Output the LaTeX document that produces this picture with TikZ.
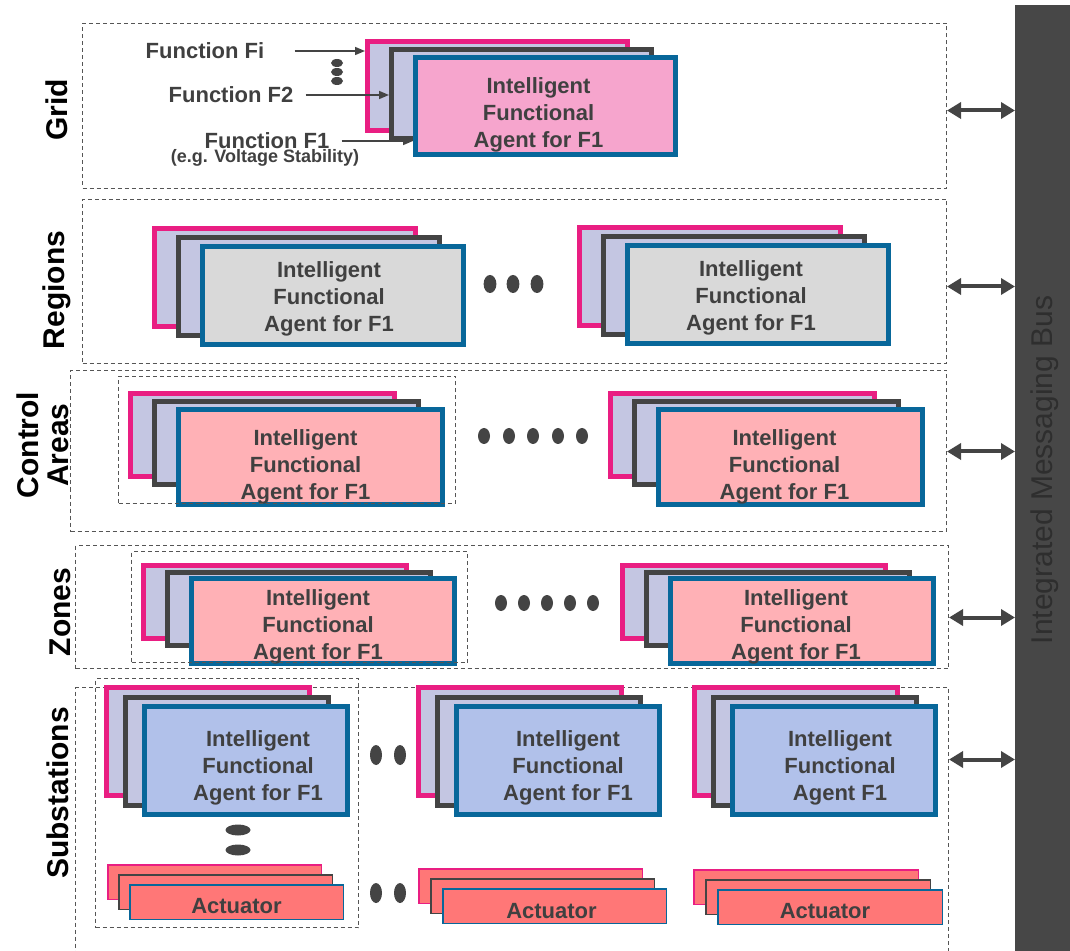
\documentclass[tikz,border=0pt]{standalone}
\usepackage{fontspec}
\setmainfont{Liberation Sans}
\usetikzlibrary{positioning,arrows.meta}

\definecolor{pinkline}{HTML}{E91E82}
\definecolor{darkline}{HTML}{444444}
\definecolor{blueline}{HTML}{08679A}
\definecolor{lavender}{HTML}{C4C6E2}
\definecolor{gridfill}{HTML}{F6A5CD}
\definecolor{regionfill}{HTML}{D9D9D9}
\definecolor{areafill}{HTML}{FFB1B6}
\definecolor{subfill}{HTML}{B1C1EA}
\definecolor{actfill}{HTML}{FF7777}
\definecolor{textgray}{HTML}{404040}
\definecolor{dashgray}{HTML}{555555}
\definecolor{busgray}{HTML}{474747}
\definecolor{bustext}{HTML}{2E2E2E}

\tikzstyle{Layer} = [draw=dashgray, dash pattern=on 2pt off 1.5pt, line width=0.5pt, anchor=north west, inner sep=0pt]
\tikzstyle{Group} = [Layer]
\tikzstyle{Back} = [draw=pinkline, fill=lavender, line width=2.5pt, anchor=north west, inner sep=0pt]
\tikzstyle{Mid} = [draw=darkline, fill=lavender, line width=2.5pt, anchor=north west, inner sep=0pt]
\tikzstyle{Front} = [draw=blueline, line width=2.5pt, anchor=north west, inner sep=0pt]
\tikzstyle{AgentText} = [align=center, inner sep=0pt, text=textgray, font=\fontsize{11}{13.5}\selectfont\bfseries]
\tikzstyle{ActBack} = [Back, fill=actfill, line width=0.75pt, minimum height=17.25pt]
\tikzstyle{ActMid} = [Mid, fill=actfill, line width=0.75pt, minimum height=17.25pt]
\tikzstyle{ActFront} = [Front, fill=actfill, line width=0.75pt, minimum height=17.25pt]
\tikzstyle{Bus} = [fill=busgray, anchor=north west, inner sep=0pt]
\tikzstyle{BusLabel} = [rotate=90, font=\fontsize{15}{15}\selectfont\color{bustext}]
\tikzstyle{LayerLabel} = [rotate=90, align=center, font=\fontsize{15}{15}\selectfont\bfseries]
\tikzstyle{FuncLabel} = [inner sep=0pt, text=textgray, font=\fontsize{11}{13}\selectfont\bfseries]
\tikzstyle{NoteLabel} = [inner sep=0pt, text=textgray, font=\fontsize{9}{10}\selectfont\bfseries]
\tikzstyle{FuncArrow} = [draw=darkline, line width=0.75pt, -{Triangle[length=5pt,width=4pt]}]
\tikzstyle{BusArrow} = [draw=darkline, line width=2pt, {Triangle[length=7pt,width=8pt]}-{Triangle[length=7pt,width=8pt]}]
\tikzstyle{DotFill} = [fill=darkline]

% three stacked agent boxes: name, back corner, width, back height, front height, offset, fill, text, text shift
\newcommand{\agentstack}[9]{%
  \node[Back, minimum width=#3, minimum height=#4] (#1b) at (#2) {};
  \node[Mid,  minimum width=#3, minimum height=#4] (#1m) at ([shift={(#6)}]#1b.north west) {};
  \node[Front, fill=#7, minimum width=#3, minimum height=#5] (#1) at ([shift={(#6)}]#1m.north west) {};
  \node[AgentText] (#1t) at ([shift={(#9)}]#1.center) {#8};
}
% three stacked actuator boxes: name, back corner, width, offset, text shift
\newcommand{\actuatorstack}[5]{%
  \node[ActBack, minimum width=#3] (#1b) at (#2) {};
  \node[ActMid,  minimum width=#3] (#1m) at ([shift={(#4)}]#1b.north west) {};
  \node[ActFront, minimum width=#3] (#1) at ([shift={(#4)}]#1m.north west) {};
  \node[AgentText] (#1t) at ([shift={(#5)}]#1.center) {Actuator};
}

\begin{document}
\begin{tikzpicture}[x=0.5pt, y=-0.5pt]
    \useasboundingbox (0,0) rectangle (1070,951);

    % layers
    \node[Layer, minimum width=432pt,   minimum height=82.5pt] (grid)    at (82,23)  {};
    \node[Layer, minimum width=432pt,   minimum height=82pt]   (regions) at (82,199) {};
    \node[Layer, minimum width=438pt,   minimum height=80.5pt] (control) at (70,370) {};
    \node[Layer, minimum width=436.5pt, minimum height=61.5pt] (zones)   at (75,545) {};
    \node[Layer, minimum width=436.5pt, minimum height=140pt]  (subst)   at (75,687) {};

    \node[LayerLabel] (lgrid)    at (57,110) {Grid};
    \node[LayerLabel] (lregions) at (57,290) {Regions};
    \node[LayerLabel] (lcontrol) at (43,445) {Control\\Areas};
    \node[LayerLabel] (lzones)   at (60,612) {Zones};
    \node[LayerLabel] (lsubst)   at (58,793) {Substations};

    % agents
    \agentstack{gf}{365,39}{130pt}{44.5pt}{48.5pt}{24,8}{gridfill}{Intelligent\\Functional\\Agent for F1}{-7,9}
    \agentstack{r1}{152,226}{130.5pt}{49pt}{49pt}{24,9}{regionfill}{Intelligent\\Functional\\Agent for F1}{-4,3}
    \agentstack{r2}{577,225}{130.5pt}{49pt}{49pt}{24,9}{regionfill}{Intelligent\\Functional\\Agent for F1}{-7,3}
    \agentstack{c1}{128,391}{132pt}{41.5pt}{47.5pt}{24,8}{areafill}{Intelligent\\Functional\\Agent for F1}{-5,10}
    \agentstack{c2}{608,391}{132pt}{41.5pt}{47.5pt}{24,8}{areafill}{Intelligent\\Functional\\Agent for F1}{-6,10}
    \agentstack{z1}{141,563}{131.5pt}{36.5pt}{42.5pt}{24,6.5}{areafill}{Intelligent\\Functional\\Agent for F1}{-5,6}
    \agentstack{z2}{620,563}{131.5pt}{36.5pt}{42.5pt}{24,6.5}{areafill}{Intelligent\\Functional\\Agent for F1}{-6,6}
    \agentstack{s1}{104,685}{101.5pt}{54pt}{54pt}{19,9.5}{subfill}{Intelligent\\Functional\\Agent for F1}{12,7}
    \agentstack{s2}{416,685}{101.5pt}{54pt}{54pt}{19,9.5}{subfill}{Intelligent\\Functional\\Agent for F1}{10,7}
    \agentstack{s3}{692,685}{101.5pt}{54pt}{54pt}{19,9.5}{subfill}{Intelligent\\Functional\\Agent F1}{6,7}

    \actuatorstack{a1}{107,864}{106.75pt}{11,10}{0,4}
    \actuatorstack{a2}{418,868}{111.75pt}{12,10}{-3,5}
    \actuatorstack{a3}{693,869}{112.25pt}{12,10}{-5,4}

    % groups
    \node[Group, minimum width=168.5pt, minimum height=63.5pt]  (c1g) at (118,376) {};
    \node[Group, minimum width=168pt,   minimum height=55.5pt]  (z1g) at (131,551) {};
    \node[Group, minimum width=131.5pt, minimum height=124.5pt] (s1g) at (95,678)  {};

    % dots
    \foreach \y in {63,72,81} \fill[DotFill] (337,\y) ellipse [x radius=3pt, y radius=2pt];
    \foreach \x in {490,513,537} \fill[DotFill] (\x,284) ellipse [x radius=3.2pt, y radius=4.5pt];
    \foreach \x in {484,509,533,558,582} \fill[DotFill] (\x,436) ellipse [x radius=3pt, y radius=4pt];
    \foreach \x in {501,524,547,570,593} \fill[DotFill] (\x,603) ellipse [x radius=3pt, y radius=4pt];
    \foreach \x in {376,400} {
        \fill[DotFill] (\x,755) ellipse [x radius=3pt, y radius=5pt];
        \fill[DotFill] (\x,893) ellipse [x radius=3pt, y radius=5pt];
    }
    \foreach \y in {830,850} \fill[DotFill] (238,\y) ellipse [x radius=6.25pt, y radius=2.75pt];

    % functions
    \node[FuncLabel] (fi)     at (205,51)  {Function Fi};
    \node[FuncLabel] (f2)     at (231,95)  {Function F2};
    \node[FuncLabel] (f1)     at (267,141) {Function F1};
    \node[NoteLabel] (f1note) at (265,158) {(e.g. Voltage Stability)};
    \draw[FuncArrow] ([xshift=15pt]fi.east) -- (fi.east -| gfb.west);
    \draw[FuncArrow] ([xshift=6pt]f2.east)  -- (f2.east -| gfm.west);
    \draw[FuncArrow] ([xshift=6pt]f1.east)  -- (f1.east -| gf.west);

    % bus
    \node[Bus, minimum width=27.5pt, minimum height=480pt] (bus) at (1015,5) {};
    \node[BusLabel] (buslabel) at (1045,470) {Integrated Messaging Bus};
    \foreach \layer/\dy in {grid/-2.25, regions/-2.5, control/-0.25, zones/-5.25, subst/34}
        \draw[BusArrow] ([yshift=\dy pt]\layer.east) -- ([yshift=\dy pt]\layer.east -| bus.west);
\end{tikzpicture}
\end{document}
